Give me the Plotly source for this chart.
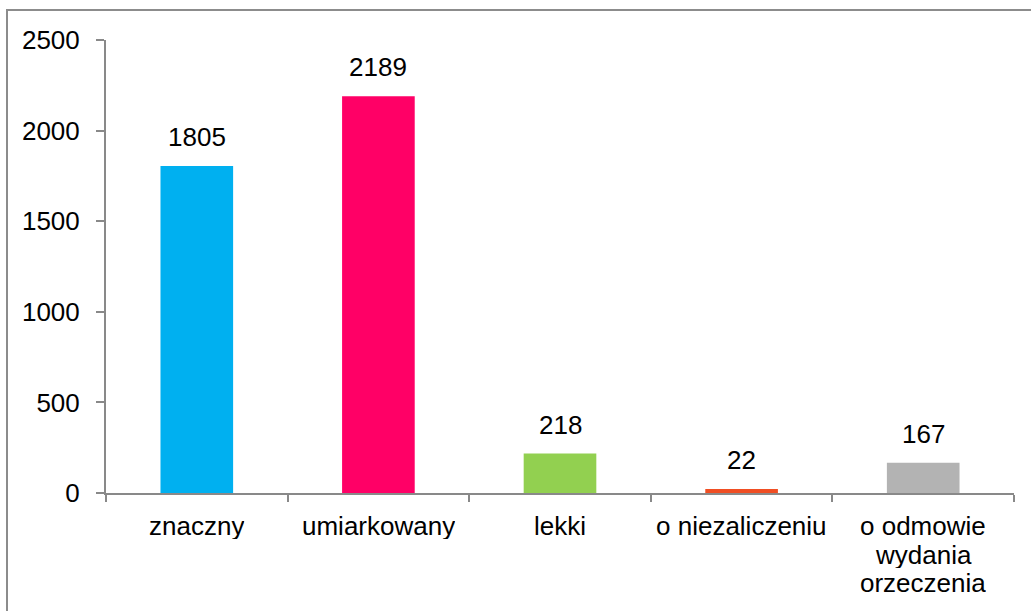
import plotly.graph_objects as go

categories = ["znaczny", "umiarkowany", "lekki", "o niezaliczeniu", "o odmowie<br>wydania<br>orzeczenia"]
values = [1805, 2189, 218, 22, 167]
colors = ["#00B0F0", "#FF0066", "#92D050", "#F04E23", "#B3B3B3"]
y_ticks = [0, 500, 1000, 1500, 2000, 2500]

W, H = 1031, 611
L, R, T, B = 106, 17, 40, 118
pw, ph = W - L - R, H - T - B

font = dict(family="Liberation Sans, Arial, sans-serif", size=26, color="#000000")
axis_col = "#898989"
line_step = 28.5  # category labels use tighter line spacing than plotly's <br>

fig = go.Figure(go.Bar(x=categories, y=values, marker=dict(color=colors, line_width=0), width=0.4))

for c, v in zip(categories, values):
    fig.add_annotation(x=c, y=v, text=str(v), showarrow=False, yanchor="bottom", yshift=12, font=font)
    for i, part in enumerate(c.split("<br>")):
        fig.add_annotation(x=c, xref="x", y=0, yref="paper", text=part, showarrow=False,
                           height=26, valign="middle", borderpad=0,
                           yanchor="top", yshift=-19 - i * line_step, font=font)

# outer chart border, partly cut off by the window like in the source
fig.add_shape(type="rect", xref="paper", yref="paper",
              x0=(7 - L) / pw, x1=(W + 10 - L) / pw,
              y0=(T + ph - (H + 10)) / ph, y1=(T + ph - 10) / ph,
              line=dict(color="#8c8c8c", width=2))

fig.update_xaxes(showline=True, linecolor=axis_col, linewidth=2, ticks="outside",
                 tickson="boundaries", ticklen=7, tickcolor=axis_col, tickwidth=2,
                 showticklabels=False, showgrid=False)
fig.update_yaxes(range=[0, 2500], tickvals=y_ticks, showline=True, linecolor=axis_col,
                 linewidth=2, ticks="outside", ticklen=8, tickcolor=axis_col, tickwidth=2,
                 tickfont=font, ticklabelstandoff=11, showgrid=False, zeroline=False)
fig.update_layout(width=W, height=H, margin=dict(l=L, r=R, t=T, b=B, autoexpand=False),
                  plot_bgcolor="white", paper_bgcolor="white", showlegend=False)
fig.write_html("out.html", config={"displayModeBar": False},
               post_script="document.body.style.margin='0';")
